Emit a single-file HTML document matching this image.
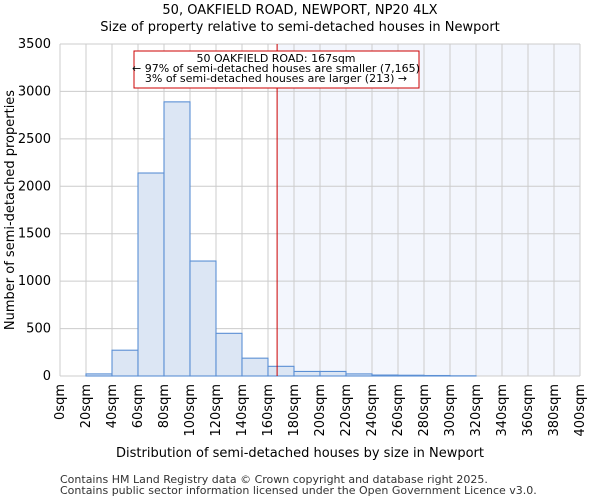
<!DOCTYPE html>
<html><head><meta charset="utf-8"><style>
body{margin:0;background:#fff;font-family:"DejaVu Sans","Liberation Sans",sans-serif;}
</style></head><body>
<svg width="600" height="500" xmlns="http://www.w3.org/2000/svg" font-family="DejaVu Sans, Liberation Sans, sans-serif">
<text x="300" y="14" text-anchor="middle" font-size="13">50, OAKFIELD ROAD, NEWPORT, NP20 4LX</text>
<text x="300" y="31" text-anchor="middle" font-size="13">Size of property relative to semi-detached houses in Newport</text>
<g id="plot"></g>
<text x="300" y="457" text-anchor="middle" font-size="13">Distribution of semi-detached houses by size in Newport</text>
<text transform="translate(14,210) rotate(-90)" text-anchor="middle" font-size="13">Number of semi-detached properties</text>
<text x="60" y="483" font-size="11" fill="#333">Contains HM Land Registry data © Crown copyright and database right 2025.</text>
<text x="60" y="494" font-size="11" fill="#333">Contains public sector information licensed under the Open Government Licence v3.0.</text>
</svg>
<script>
const binStarts=[0,20,40,60,80,100,120,140,160,180,200,220,240,260,280,300,320,340,360,380];
const counts=[0,22,272,2140,2890,1212,450,188,102,48,48,22,10,8,5,2,0,0,0,0];
const yTicks=[0,500,1000,1500,2000,2500,3000,3500];
const xTicks=[0,20,40,60,80,100,120,140,160,180,200,220,240,260,280,300,320,340,360,380,400];
const propertySize=167;
const NS='http://www.w3.org/2000/svg';
const L=60,R=580,T=44,B=376;
const xs=v=>L+(v/400)*(R-L);
const ys=v=>B-(v/3500)*(B-T);
const g=document.getElementById('plot');
function mk(t,a){const e=document.createElementNS(NS,t);for(const k in a)e.setAttribute(k,a[k]);g.appendChild(e);return e;}
let sh=mk('rect',{x:xs(propertySize),y:T,width:R-xs(propertySize),height:B-T,fill:'#f3f6fd'});


yTicks.forEach(v=>{let l=mk('line',{x1:L,x2:R,y1:ys(v),y2:ys(v),stroke:'#cccccc','stroke-width':1});


let t=mk('text',{x:L-9,y:ys(v)+4,'text-anchor':'end','font-size':13});t.textContent=v;

});
xTicks.forEach(v=>{let l=mk('line',{x1:xs(v),x2:xs(v),y1:T,y2:B,stroke:'#cccccc','stroke-width':1});


let t=mk('text',{transform:`translate(${xs(v)+4},${B+8}) rotate(-90)`,'text-anchor':'end','font-size':13});t.textContent=v+'sqm';

});
binStarts.forEach((s,i)=>{if(counts[i]<=0)return;let r=mk('rect',{x:xs(s),y:ys(counts[i]),width:xs(s+20)-xs(s),height:B-ys(counts[i]),fill:'#dce6f4',stroke:'#5b8fd4','stroke-width':1.1});

});
let ml=mk('line',{x1:xs(propertySize),x2:xs(propertySize),y1:T,y2:B,stroke:'#cc0000','stroke-width':1});


let bx=mk('rect',{x:134,y:51,width:285,height:37,fill:'#fff',stroke:'#cc0000','stroke-width':1});


['50 OAKFIELD ROAD: 167sqm','← 97% of semi-detached houses are smaller (7,165)','3% of semi-detached houses are larger (213) →'].forEach((s,i)=>{let t=mk('text',{x:276,y:62+i*10,'text-anchor':'middle','font-size':11});t.textContent=s;

});
</script>
</body></html>
